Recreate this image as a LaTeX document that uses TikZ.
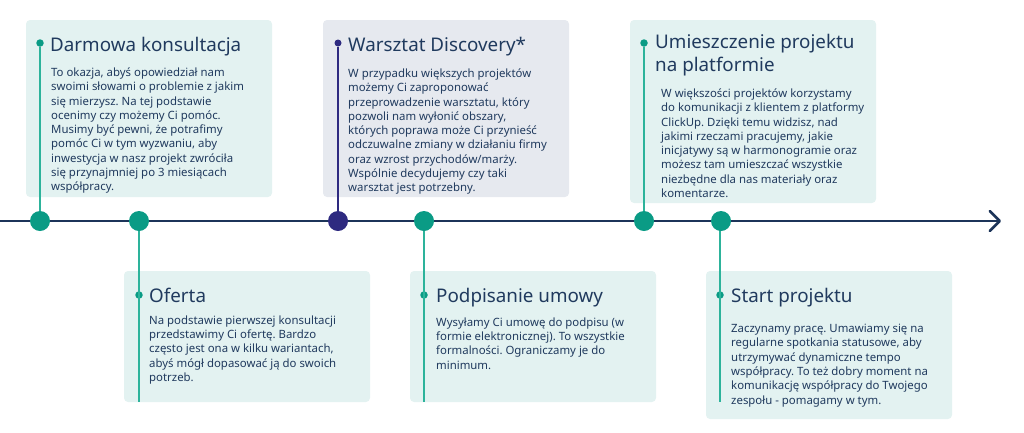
\documentclass[tikz,border=0pt]{standalone}
\usepackage{fontspec}
\setmainfont{Noto Sans}
\frenchspacing
\usetikzlibrary{arrows.meta}
\definecolor{teal1}{HTML}{0A9B85}
\definecolor{teal2}{HTML}{2DB39B}
\definecolor{navy}{HTML}{1C3459}
\definecolor{ink}{HTML}{203A5E}
\definecolor{violet1}{HTML}{2E2A80}
\definecolor{boxgreen}{HTML}{E3F2F1}
\definecolor{boxgrey}{HTML}{E6E9EF}

\begin{document}
\begin{tikzpicture}[x=1pt, y=-1pt,
	card/.style={fill=boxgreen, rounded corners=4pt},
	title/.style={anchor=base west, inner sep=0, text=ink, align=left, font=\fontsize{18.8}{23}\selectfont},
	body/.style={anchor=north west, inner sep=0, text=ink, align=left, font=\fontsize{11.4}{14.3}\selectfont},
	bigdot/.style={circle, fill=teal1, minimum size=20pt, inner sep=0},
	smalldot/.style={circle, fill=teal1, minimum size=7.5pt, inner sep=0},
	stem/.style={teal2, line width=1.4pt}]
	\useasboundingbox (0,0) rectangle (1024,432);
	% cards
	\fill[card] (26,20) rectangle (272,197);
	\fill[card, fill=boxgrey] (323,20) rectangle (569,197);
	\fill[card] (630,20) rectangle (876,203);
	\fill[card] (124,271) rectangle (370,402);
	\fill[card] (410,271) rectangle (656,402);
	\fill[card] (706,271) rectangle (952,419);
	% timeline
	\coordinate (t0) at (0,221);
	\coordinate (t1) at (1001,221);
	\draw [navy, line width=2.6pt, -{Straight Barb[length=10pt, width=20pt, line cap=round, line join=round]}] (t0)--(t1);
	% dots
	\path (40,43) node(s1)[smalldot]{}
	(338,43) node(s2)[smalldot, fill=violet1, minimum size=7pt]{}
	(644,43) node(s3)[smalldot]{}
	(139,295) node(s4)[smalldot]{}
	(424,295) node(s5)[smalldot]{}
	(720,295) node(s6)[smalldot]{};
	\coordinate (e4) at (139,402);
	\coordinate (e5) at (424,402);
	\coordinate (e6) at (720,402);
	\draw [stem] (s1)--(40,221);
	\draw [violet1, line width=1.2pt] (s2)--(338,221);
	\draw [stem] (s3)--(644,221);
	\draw [stem] (139,221)--(e4);
	\draw [stem] (424,221)--(e5);
	\draw [stem] (720,221)--(e6);
	\path (40,221) node(d1)[bigdot]{}
	(139,221) node(d2)[bigdot]{}
	(338,221) node(d3)[bigdot, fill=violet1]{}
	(424,221) node(d4)[bigdot]{}
	(644,221) node(d5)[bigdot]{}
	(721,221) node(d6)[bigdot]{};
	% texts
	\node (h1) [title] at (50,51) {Darmowa konsultacja};
	\node (b1) [body] at (51,67.5) {To okazja, abyś opowiedział nam\\swoimi słowami o problemie z jakim\\się mierzysz. Na tej podstawie\\ocenimy czy możemy Ci pomóc.\\Musimy być pewni, że potrafimy\\pomóc Ci w tym wyzwaniu, aby\\inwestycja w nasz projekt zwróciła\\się przynajmniej po 3 miesiącach\\współpracy.};
	\node (h2) [title] at (348,51) {Warsztat Discovery*};
	\node (b2) [body] at (348,68.5) {W przypadku większych projektów\\możemy Ci zaproponować\\przeprowadzenie warsztatu, który\\pozwoli nam wyłonić obszary,\\których poprawa może Ci przynieść\\odczuwalne zmiany w działaniu firmy\\oraz wzrost przychodów/marży.\\Wspólnie decydujemy czy taki\\warsztat jest potrzebny.};
	\node (h3) [title] at (655,71.5) {Umieszczenie projektu\\na platformie};
	\node (b3) [body] at (661,88.5) {W większości projektów korzystamy\\do komunikacji z klientem z platformy\\ClickUp. Dzięki temu widzisz, nad\\jakimi rzeczami pracujemy, jakie\\inicjatywy są w harmonogramie oraz\\możesz tam umieszczać wszystkie\\niezbędne dla nas materiały oraz\\komentarze.};
	\node (h4) [title] at (149,302) {Oferta};
	\node (b4) [body] at (149,315.5) {Na podstawie pierwszej konsultacji\\przedstawimy Ci ofertę. Bardzo\\często jest ona w kilku wariantach,\\abyś mógł dopasować ją do swoich\\potrzeb.};
	\node (h5) [title] at (436,302) {Podpisanie umowy};
	\node (b5) [body] at (436,317.5) {Wysyłamy Ci umowę do podpisu (w\\formie elektronicznej). To wszystkie\\formalności. Ograniczamy je do\\minimum.};
	\node (h6) [title] at (731,302) {Start projektu};
	\node (b6) [body] at (731,324) {Zaczynamy pracę. Umawiamy się na\\regularne spotkania statusowe, aby\\utrzymywać dynamiczne tempo\\współpracy. To też dobry moment na\\komunikację współpracy do Twojego\\zespołu - pomagamy w tym.};
\end{tikzpicture}
\end{document}
